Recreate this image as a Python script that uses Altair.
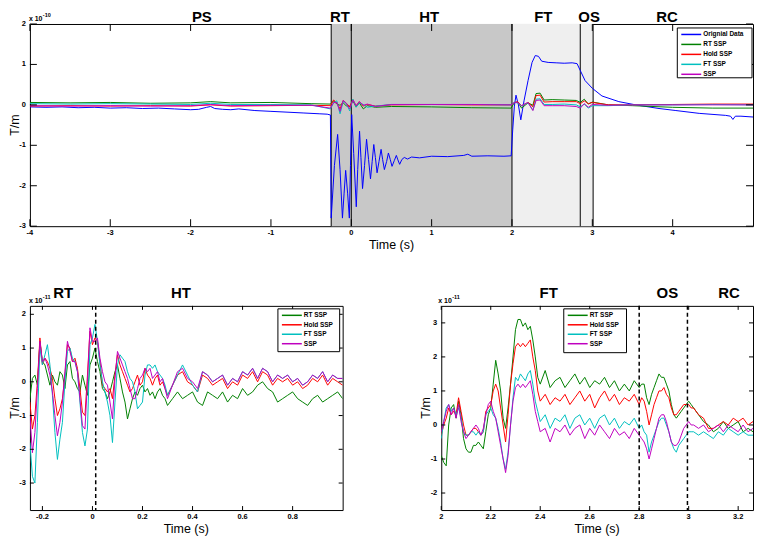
import altair as alt
import pandas as pd

FONT = "Liberation Sans"

NAMES_TOP = ["Orignial Data", "RT SSP", "Hold SSP", "FT SSP", "SSP"]
COLORS_TOP = ["#0000ff", "#008000", "#ff0000", "#00bfbf", "#bf00bf"]
NAMES_BOT = NAMES_TOP[1:]
COLORS_BOT = COLORS_TOP[1:]

# ---------------- top panel (x 1e-10 T/m) ----------------
TOP_XTICKS = [-4, -3, -2, -1, 0, 1, 2, 3, 4]
TOP_YTICKS = [-3, -2, -1, 0, 1, 2]
TOP_REGIONS = ["PS", "RT", "HT", "FT", "OS", "RC"]
TOP_REGION_T = [-1.86, -0.14, 0.97, 2.39, 2.96, 3.93]
TOP_BOUNDS = [-0.25, 0.0, 2.0, 2.85, 3.01]
TOP_DARK = [-0.25, 2.0]
TOP_LIGHT = [2.0, 3.01]

ORIG_T = [-4.0, -3.8, -3.6, -3.4, -3.2, -3.0, -2.8, -2.6, -2.4, -2.2, -2.0, -1.9, -1.8, -1.75,
          -1.7, -1.6, -1.5, -1.4, -1.2, -1.0, -0.8, -0.6, -0.4, -0.3, -0.26, -0.25, -0.21, -0.17,
          -0.14, -0.11, -0.09, -0.07, -0.045, -0.024, -0.01, 0.005, 0.03, 0.062, 0.08, 0.103, 0.12,
          0.14, 0.165, 0.19, 0.215, 0.239, 0.26, 0.28, 0.30, 0.321, 0.345, 0.371, 0.39, 0.412, 0.44,
          0.462, 0.485, 0.507, 0.535, 0.561, 0.58, 0.602, 0.63, 0.66, 0.70, 0.75, 0.85, 1.0, 1.2,
          1.4, 1.45, 1.5, 1.7, 1.9, 1.99, 2.01, 2.03, 2.05, 2.08, 2.11, 2.15, 2.2, 2.25, 2.29, 2.33,
          2.37, 2.45, 2.55, 2.65, 2.75, 2.81, 2.85, 2.91, 3.0, 3.12, 3.33, 3.54, 3.83, 4.04, 4.33,
          4.66, 4.72, 4.75, 4.78, 4.85, 5.0]
ORIG_V = [-0.05, -0.06, -0.05, -0.07, -0.06, -0.08, -0.07, -0.09, -0.08, -0.10, -0.12, -0.11, -0.06, -0.04,
          -0.09, -0.11, -0.12, -0.10, -0.14, -0.16, -0.18, -0.20, -0.22, -0.23, -0.25, -2.8, -1.5, -0.73,
          -1.6, -2.8, -2.2, -1.62, -2.2, -2.8, -1.5, -0.24, -1.2, -2.52, -1.6, -0.65, -1.3,
          -2.07, -1.5, -0.85, -1.35, -1.83, -1.4, -0.98, -1.3, -1.68, -1.4, -1.1, -1.35, -1.6, -1.4,
          -1.19, -1.35, -1.52, -1.38, -1.25, -1.36, -1.47, -1.35, -1.30, -1.34, -1.29, -1.31, -1.27, -1.28,
          -1.25, -1.22, -1.27, -1.26, -1.27, -1.26, -0.6, -0.03, 0.24, 0.0, -0.37, 0.1, 0.6, 1.05, 1.22, 1.2,
          1.08, 1.05, 1.04, 1.03, 1.04, 1.02, 0.85, 0.6, 0.41, 0.22, 0.08, 0.0, -0.09, -0.14, -0.21,
          -0.26, -0.28, -0.36, -0.28, -0.28, -0.3]

SSP_T = [-4.0, -3.5, -3.0, -2.5, -2.0, -1.75, -1.5, -1.0, -0.5, -0.26, -0.22, -0.18, -0.14, -0.10,
         -0.06, -0.02, 0.02, 0.06, 0.10, 0.15, 0.2, 0.3, 0.5, 1.0, 1.5, 1.99, 2.03, 2.07, 2.12, 2.2,
         2.26, 2.3, 2.35, 2.4, 2.5, 2.65, 2.8, 2.85, 2.9, 2.95, 3.0, 3.2, 3.5, 4.0, 4.5, 5.0]
TOP_RT = [0.06, 0.05, 0.06, 0.04, 0.05, 0.08, 0.05, 0.06, 0.03, 0.02, 0.10, 0.02, -0.01, 0.05,
          -0.03, -0.04, 0.10, -0.05, 0.05, -0.10, -0.02, -0.06, -0.04, -0.05, -0.07, -0.08, 0.06, 0.07, -0.08, 0.05,
          -0.01, 0.28, 0.29, 0.12, 0.13, 0.12, 0.11, 0.06, 0.14, 0.02, 0.07, 0.0, -0.02, -0.06, -0.08, -0.08]
TOP_HOLD = [-0.03, -0.02, -0.03, -0.02, -0.03, 0.0, -0.03, -0.02, -0.01, -0.02, 0.12, 0.05, -0.10, 0.11,
            0.04, -0.05, 0.13, -0.03, 0.08, -0.03, 0.01, -0.03, 0.0, 0.01, 0.0, 0.0, 0.05, 0.08, -0.02, 0.06,
            -0.05, 0.23, 0.24, 0.07, 0.08, 0.08, 0.08, 0.03, 0.10, 0.03, 0.06, 0.0, 0.0, 0.01, 0.02, 0.02]
TOP_FT = [0.03, 0.02, 0.03, 0.02, 0.01, 0.04, 0.01, 0.01, 0.0, -0.10, 0.05, 0.10, -0.22, 0.09,
          0.03, -0.15, 0.14, -0.06, 0.05, 0.01, -0.06, -0.03, 0.01, 0.01, 0.01, 0.0, 0.06, 0.05, -0.02, 0.05,
          -0.13, 0.14, 0.15, 0.01, 0.01, 0.02, 0.0, -0.05, 0.02, -0.08, -0.02, -0.02, 0.0, 0.0, 0.01, 0.0]
TOP_SSP = [-0.02, -0.03, -0.02, -0.03, -0.02, 0.01, -0.02, -0.01, -0.01, -0.08, 0.06, 0.06, -0.16, 0.11,
           0.03, -0.10, 0.12, -0.02, 0.08, -0.01, 0.02, -0.04, 0.01, 0.01, 0.01, 0.0, 0.06, 0.06, -0.02, 0.06,
           -0.14, 0.11, 0.12, -0.02, -0.02, -0.02, -0.04, -0.08, 0.03, -0.06, 0.01, -0.01, 0.0, 0.0, 0.0, 0.0]

# ---------------- bottom-left panel (x 1e-11 T/m) ----------------
BL_XTICKS = [-0.2, 0, 0.2, 0.4, 0.6, 0.8]
BL_YTICKS = [-3, -2, -1, 0, 1, 2]
BL_REGIONS = ["RT", "HT"]
BL_REGION_T = [-0.117, 0.354]
BL_ONSET = [0.013]
BL_T = [-0.25, -0.24, -0.23, -0.22, -0.21, -0.20, -0.19, -0.18, -0.17, -0.16, -0.15, -0.14, -0.13, -0.12,
        -0.11, -0.10, -0.09, -0.08, -0.07, -0.06, -0.05, -0.04, -0.03, -0.02, -0.01, 0.00, 0.01, 0.02,
        0.03, 0.04, 0.05, 0.06, 0.07, 0.08, 0.09, 0.10, 0.11, 0.12, 0.13, 0.14, 0.15, 0.16, 0.17, 0.18,
        0.19, 0.20, 0.21, 0.22, 0.23, 0.24, 0.25, 0.26, 0.27, 0.28, 0.29, 0.30,
        0.32, 0.34, 0.36, 0.38, 0.40, 0.42, 0.44, 0.46, 0.48, 0.50, 0.52, 0.54, 0.56, 0.58, 0.60,
        0.62, 0.64, 0.66, 0.68, 0.70, 0.72, 0.74, 0.76, 0.78, 0.80, 0.82, 0.84, 0.86, 0.88, 0.90,
        0.92, 0.94, 0.96, 0.98, 1.00]
BL_RT = [-0.5, 0.1, 0.2, -0.1, 1.2, 0.6, 0.5, 0.2, -0.1, 0.2,
         0.0, -0.1, 0.3, 0.2, -0.2, 0.5, 0.6, 0.1, 0.0, -0.2,
         -0.3, 0.2, -0.1, -0.4, 0.5, 0.7, 1.0, 0.6, 0.3, -0.2,
         -0.3, -0.5, -0.3, 0.0, 0.3, 0.5, 0.1, -0.3, -0.6, -1.1,
         -0.8, -0.5, -0.3, -0.4, -0.2, -0.1, -0.3, -0.2, -0.4, -0.3,
         -0.5, -0.3, -0.2, -0.4, -0.5, -0.7,
         -0.5, -0.3, -0.5, -0.4, -0.3, -0.6, -0.7, -0.3, -0.4, -0.5,
         -0.3, -0.6, -0.4, -0.5, -0.2, -0.4, -0.3, -0.1, 0.0, -0.2,
         -0.3, -0.6, -0.5, -0.4, -0.3, -0.5, -0.6, -0.7, -0.5, -0.4,
         -0.6, -0.5, -0.4, -0.3, -0.5]
BL_HOLD = [-0.6, -1.4, -1.0, 0.0, 1.3, 0.5, 0.7, 0.6, 0.4, 0.1,
           -0.5, -1.0, -0.8, -0.5, 0.2, 1.1, 1.0, 0.6, 0.7, 0.4,
           -0.2, -0.9, -1.0, 0.2, 1.5, 1.1, 1.3, 1.2, 0.6, -0.1,
           -0.2, -0.3, -0.2, -0.5, 0.2, 0.8, 0.5, 0.3, 0.1, -0.1,
           -0.3, -0.2, 0.0, 0.2, -0.1, 0.0, 0.4, 0.2, 0.1, -0.1,
           0.1, 0.2, -0.1, 0.0, -0.2, -0.4,
           -0.1, 0.2, 0.3, 0.0, -0.1, -0.3, 0.2, 0.1, -0.1, 0.0,
           0.1, -0.2, 0.0, -0.1, 0.2, 0.1, 0.3, 0.0, 0.3, 0.2,
           -0.1, 0.1, 0.0, 0.1, -0.1, 0.0, -0.2, -0.1, 0.1, 0.0,
           0.2, -0.1, 0.1, 0.0, -0.1]
BL_FT = [-1.8, -2.8, -3.0, -1.2, 1.0, 0.5, 0.8, 1.1, 0.5, -0.4,
         -1.5, -2.3, -1.7, -1.2, 0.0, 0.9, 1.0, 0.7, 0.6, 0.3,
         -0.6, -1.5, -1.9, -1.4, 1.1, 1.3, 1.7, 1.2, 0.5, 0.0,
         -0.3, -0.6, -1.0, -1.8, -0.6, 0.5, 0.8, 0.7, 0.6, 0.3,
         0.1, 0.0, -0.3, -0.8, -0.7, -0.6, 0.2, 0.5, 0.5, 0.4,
         0.5, 0.3, 0.2, 0.1, -0.1, -0.4,
         -0.1, 0.2, 0.5, 0.2, -0.1, -0.3, 0.3, 0.2, 0.0, 0.1,
         0.2, -0.1, 0.1, 0.0, 0.3, 0.2, 0.4, 0.1, 0.4, 0.3,
         0.0, 0.2, 0.1, 0.2, 0.0, 0.1, -0.1, 0.0, 0.2, 0.1,
         0.3, 0.0, 0.2, 0.1, 0.1]
BL_SSP = [-1.0, -2.1, -1.5, -0.2, 1.2, 0.6, 0.7, 0.5, 0.2, -0.3,
          -1.0, -1.6, -1.2, -0.6, 0.3, 1.2, 0.9, 0.6, 0.6, 0.3,
          -0.5, -1.3, -1.4, 0.0, 1.6, 1.2, 1.2, 1.3, 0.7, 0.3,
          0.0, -0.1, -0.6, -1.1, 0.1, 0.9, 0.7, 0.5, 0.3, 0.1,
          -0.2, -0.5, -0.5, -0.2, 0.1, 0.2, 0.4, 0.3, 0.4, 0.1,
          0.2, 0.3, 0.0, 0.1, -0.2, -0.5,
          -0.1, 0.3, 0.4, 0.1, 0.0, -0.2, 0.3, 0.2, 0.0, 0.1,
          0.2, -0.1, 0.1, 0.0, 0.3, 0.2, 0.4, 0.1, 0.4, 0.3,
          0.0, 0.2, 0.1, 0.2, 0.0, 0.1, -0.1, 0.0, 0.2, 0.1,
          0.3, 0.0, 0.2, 0.1, 0.1]

# ---------------- bottom-right panel (x 1e-11 T/m) ----------------
BR_XTICKS = [2, 2.2, 2.4, 2.6, 2.8, 3, 3.2]
BR_YTICKS = [-2, -1, 0, 1, 2, 3]
BR_REGIONS = ["FT", "OS", "RC"]
BR_REGION_T = [2.434, 2.914, 3.163]
BR_ONSET = [2.80, 2.995]
BR_T = [2.00, 2.01, 2.02, 2.03, 2.04, 2.05, 2.06, 2.07, 2.08, 2.09, 2.10, 2.11, 2.12, 2.13, 2.14,
        2.15, 2.16, 2.17, 2.18, 2.19, 2.20, 2.21, 2.22, 2.23, 2.24, 2.25, 2.26, 2.27, 2.28, 2.29,
        2.30, 2.31, 2.32, 2.33, 2.34, 2.35, 2.36, 2.37, 2.38, 2.39, 2.40,
        2.42, 2.44, 2.46, 2.48, 2.50, 2.52, 2.54, 2.56, 2.58, 2.60, 2.62, 2.64, 2.66, 2.68, 2.70,
        2.72, 2.74, 2.76, 2.78, 2.80,
        2.81, 2.82, 2.83, 2.84, 2.85, 2.86, 2.87, 2.88, 2.89, 2.90, 2.91, 2.92, 2.93, 2.94, 2.95,
        2.96, 2.97, 2.98, 2.99, 3.00, 3.01, 3.02,
        3.04, 3.06, 3.08, 3.10, 3.12, 3.14, 3.16, 3.18, 3.20, 3.22, 3.24, 3.26]
BR_RT = [-0.9, -1.1, -1.2, 0.0, 0.5, 0.6, 0.2, 0.7, 0.3, -0.4,
         -0.7, -0.8, -0.8, -0.6, -0.6, -0.5, -0.6, -0.7, -0.2, 0.3,
         0.5, 1.2, 1.9, 1.5, 1.0, 0.2, -0.1, 0.5, 1.2, 2.0,
         2.8, 3.1, 3.1, 2.9, 3.0, 2.8, 2.9, 2.5, 2.0, 1.4, 1.2,
         1.6, 1.1, 1.3, 1.4, 1.1, 1.3, 1.5, 1.2, 1.4, 1.1, 1.3, 1.2, 1.4, 1.1, 1.3, 1.0, 1.2, 1.0, 1.3, 1.1,
         1.2, 1.2, 0.8, 0.6, 0.9, 1.1, 1.3, 1.5, 1.4, 1.4, 1.2, 1.0, 0.6, 0.3, 0.2, 0.3, 0.4, 0.5, 0.6, 0.7, 0.6, 0.5,
         0.3, 0.1, 0.0, -0.2, -0.1, 0.1, -0.1, 0.0, 0.1, -0.2, -0.1, -0.2]
BR_HOLD = [-0.3, 0.0, 0.2, 0.5, 0.3, 0.4, 0.3, 0.8, 0.4, 0.0,
           -0.3, -0.3, -0.2, -0.1, -0.1, -0.2, -0.3, -0.2, 0.4, 0.5,
           0.6, 1.0, 1.2, 1.0, 0.5, 0.0, -0.5, 0.3, 1.2, 1.8,
           2.3, 2.4, 2.3, 2.4, 2.3, 2.4, 2.5, 2.0, 1.6, 1.0, 0.7,
           0.9, 0.6, 0.8, 0.7, 0.9, 0.6, 0.8, 1.0, 0.7, 0.9, 0.5, 0.8, 1.0, 0.7, 0.9, 0.6, 0.8, 0.7, 0.9, 0.6,
           0.8, 0.7, 0.4, 0.0, 0.3, 0.6, 0.8, 1.0, 1.0, 1.1, 0.9, 0.8, 0.5, 0.3, 0.3, 0.4, 0.5, 0.6, 0.6, 0.6, 0.5, 0.5,
           0.3, 0.2, -0.1, -0.1, 0.0, 0.1, 0.0, 0.2, 0.1, 0.2, 0.0, 0.1]
BR_FT = [-0.4, 0.1, 0.5, 0.6, 0.4, 0.5, 0.3, 0.5, 0.2, -0.2,
         -0.3, -0.3, -0.2, -0.2, -0.3, -0.2, -0.3, -0.2, 0.3, 0.4,
         0.5, 0.3, 0.2, -0.1, -0.5, -1.0, -1.3, -0.8, 0.0, 0.8,
         1.4, 1.3, 1.5, 1.4, 1.3, 1.5, 1.6, 1.2, 0.7, 0.4, 0.1,
         0.3, -0.1, 0.2, 0.1, 0.3, -0.1, 0.2, 0.3, 0.0, 0.2, -0.1, 0.2, 0.3, 0.0, 0.2, -0.1, 0.1, 0.0, 0.2, -0.1,
         0.0, -0.2, -0.3, -0.8, -0.5, -0.3, -0.1, 0.1, 0.2, 0.2, 0.0, -0.2, -0.5, -0.7, -0.8, -0.6, -0.5, -0.4, -0.3, -0.2, -0.2, -0.2,
         -0.3, -0.2, -0.3, -0.4, -0.2, -0.3, -0.1, -0.2, -0.3, -0.2, -0.3, -0.3]
BR_SSP = [-0.2, 0.1, 0.4, 0.6, 0.3, 0.5, 0.2, 0.6, 0.1, -0.2,
          -0.4, -0.3, -0.2, -0.1, 0.0, -0.1, -0.3, -0.1, 0.3, 0.6,
          0.7, 0.4, 0.2, -0.2, -0.6, -1.0, -1.4, -0.9, 0.0, 0.7,
          1.1, 1.2, 1.1, 1.2, 1.1, 1.2, 1.3, 0.9, 0.4, 0.1, -0.2,
          -0.1, -0.5, -0.1, -0.2, 0.0, -0.3, -0.1, 0.0, -0.4, -0.1, -0.3, 0.0, -0.2, -0.4, -0.1, -0.3, -0.2, -0.4, -0.1, -0.3,
          -0.4, -0.5, -0.7, -1.0, -0.7, -0.4, -0.1, 0.2, 0.3, 0.3, 0.1, -0.2, -0.5, -0.6, -0.6, -0.5, -0.3, -0.1, 0.0, 0.1, 0.0, 0.0,
          -0.1, 0.0, -0.2, -0.1, 0.0, -0.2, 0.0, -0.1, -0.2, 0.0, -0.2, -0.1]

ONE = pd.DataFrame({"k": [0]})


def fmt(v):
    return f"{v:g}"


def panel(W, H, xdom, ydom, xticks, yticks, tlen, series, reg_names, reg_t, reg_y,
          exp_x, exp_sup, leg_names, leg_colors, lx, ly, lw, lh, row,
          shades=(), solid=(), dashed=()):
    xs = alt.Scale(domain=xdom, nice=False, zero=False)
    ys = alt.Scale(domain=ydom, nice=False, zero=False)
    X = lambda f: alt.X(f, scale=xs, axis=None)
    Y = lambda f: alt.Y(f, scale=ys, axis=None)
    L = []
    for a, b, c in shades:
        L.append(alt.Chart(pd.DataFrame({"a": [a], "b": [b]})).mark_rect(color=c).encode(
            x=X("a:Q"), x2="b:Q", y=alt.value(0), y2=alt.value(H)))
    if solid:
        L.append(alt.Chart(pd.DataFrame({"t": list(solid)})).mark_rule(color="black", strokeWidth=1).encode(
            x=X("t:Q")))
    for t, v, c in series:
        L.append(alt.Chart(pd.DataFrame({"t": t, "v": v})).mark_line(color=c, strokeWidth=1, clip=True).encode(
            x=X("t:Q"), y=Y("v:Q")))
    if dashed:
        L.append(alt.Chart(pd.DataFrame({"t": list(dashed)})).mark_rule(
            color="black", strokeWidth=1.5, strokeDash=[4, 3]).encode(x=X("t:Q")))
    xt = pd.DataFrame({"t": xticks, "lab": [fmt(v) for v in xticks]})
    yt = pd.DataFrame({"v": yticks, "lab": [fmt(v) for v in yticks]})
    # inward ticks on all four sides (Matlab box)
    L.append(alt.Chart(xt).mark_rule(color="black").encode(x=X("t:Q"), y=alt.value(H), y2=alt.value(H - tlen)))
    L.append(alt.Chart(xt).mark_rule(color="black").encode(x=X("t:Q"), y=alt.value(0), y2=alt.value(tlen)))
    L.append(alt.Chart(yt).mark_rule(color="black").encode(y=Y("v:Q"), x=alt.value(0), x2=alt.value(tlen)))
    L.append(alt.Chart(yt).mark_rule(color="black").encode(y=Y("v:Q"), x=alt.value(W), x2=alt.value(W - tlen)))
    # tick labels
    L.append(alt.Chart(xt).mark_text(font=FONT, fontSize=7.5, fontWeight="bold", baseline="top",
                                     align="center", color="black").encode(
        x=X("t:Q"), y=alt.value(H + 3), text="lab:N"))
    L.append(alt.Chart(yt).mark_text(font=FONT, fontSize=7.5, fontWeight="bold", baseline="middle",
                                     align="right", color="black").encode(
        y=Y("v:Q"), x=alt.value(-4), text="lab:N"))
    # axis titles
    L.append(alt.Chart(ONE).mark_text(font=FONT, fontSize=12.5, baseline="middle", align="center",
                                      color="black").encode(
        x=alt.value(W / 2), y=alt.value(H + 19), text=alt.value("Time (s)")))
    L.append(alt.Chart(ONE).mark_text(font=FONT, fontSize=12.5, baseline="middle", align="center",
                                      angle=270, color="black").encode(
        x=alt.value(-15), y=alt.value(H / 2), text=alt.value("T/m")))
    # region labels
    L.append(alt.Chart(pd.DataFrame({"label": reg_names, "t": reg_t})).mark_text(
        font=FONT, fontSize=15, fontWeight="bold", baseline="alphabetic", align="center", color="black").encode(
        x=X("t:Q"), y=alt.value(reg_y), text="label:N"))
    # exponent
    L.append(alt.Chart(ONE).mark_text(font=FONT, fontSize=7, fontWeight="bold", align="left",
                                      baseline="alphabetic", color="black").encode(
        x=alt.value(exp_x), y=alt.value(-3), text=alt.value("x 10")))
    L.append(alt.Chart(ONE).mark_text(font=FONT, fontSize=5.5, fontWeight="bold", align="left",
                                      baseline="alphabetic", color="black").encode(
        x=alt.value(exp_x + 14), y=alt.value(-7), text=alt.value(exp_sup)))
    # legend
    L.append(alt.Chart(ONE).mark_rect(fill="white", stroke="black", strokeWidth=1).encode(
        x=alt.value(lx), x2=alt.value(lx + lw), y=alt.value(ly), y2=alt.value(ly + lh)))
    for i, (n, c) in enumerate(zip(leg_names, leg_colors)):
        yy = ly + 6.5 + i * row
        L.append(alt.Chart(ONE).mark_rule(color=c, strokeWidth=1.5).encode(
            x=alt.value(lx + 4), x2=alt.value(lx + 24), y=alt.value(yy)))
        L.append(alt.Chart(ONE).mark_text(font=FONT, fontSize=6.5, fontWeight="bold", align="left",
                                          baseline="middle", color="black").encode(
            x=alt.value(lx + 26), y=alt.value(yy), text=alt.value(n)))
    return alt.layer(*L).properties(width=W, height=H)


top = panel(726, 203, [-4, 5], [-3, 2], TOP_XTICKS, TOP_YTICKS, 7,
            [(ORIG_T, ORIG_V, COLORS_TOP[0]), (SSP_T, TOP_RT, COLORS_TOP[1]), (SSP_T, TOP_HOLD, COLORS_TOP[2]),
             (SSP_T, TOP_FT, COLORS_TOP[3]), (SSP_T, TOP_SSP, COLORS_TOP[4])],
            TOP_REGIONS, TOP_REGION_T, -2, -1, "-10", NAMES_TOP, COLORS_TOP, 650, 4, 75, 50, 10,
            shades=[(TOP_DARK[0], TOP_DARK[1], "#c8c8c8"), (TOP_LIGHT[0], TOP_LIGHT[1], "#efefef")],
            solid=TOP_BOUNDS)

bl = panel(314, 205, [-0.25, 1.0], [-3.8, 2.25], BL_XTICKS, BL_YTICKS, 4,
           [(BL_T, BL_RT, COLORS_BOT[0]), (BL_T, BL_HOLD, COLORS_BOT[1]), (BL_T, BL_FT, COLORS_BOT[2]),
            (BL_T, BL_SSP, COLORS_BOT[3])],
           BL_REGIONS, BL_REGION_T, -8, -1, "-11", NAMES_BOT, COLORS_BOT, 249, 3, 62, 43, 9.5,
           dashed=BL_ONSET)

br = panel(313, 205, [2.0, 3.26], [-2.5, 3.5], BR_XTICKS, BR_YTICKS, 4,
           [(BR_T, BR_RT, COLORS_BOT[0]), (BR_T, BR_HOLD, COLORS_BOT[1]), (BR_T, BR_FT, COLORS_BOT[2]),
            (BR_T, BR_SSP, COLORS_BOT[3])],
           BR_REGIONS, BR_REGION_T, -8, -3, "-11", NAMES_BOT, COLORS_BOT, 123, 3, 63, 44, 9.5,
           dashed=BR_ONSET)

chart = alt.vconcat(top, alt.hconcat(bl, br, spacing=99, bounds="flush"), spacing=80, bounds="flush").properties(
    padding=0, background="white"
).configure_view(stroke="black", strokeWidth=1)

chart.save("out.html", embed_options={"renderer": "svg", "actions": False})
